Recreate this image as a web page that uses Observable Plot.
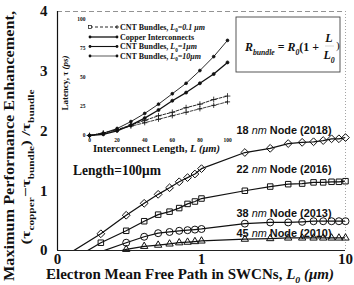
<!DOCTYPE html>
<html><head><meta charset="utf-8">
<script src="https://cdn.jsdelivr.net/npm/d3@7"></script>
<script src="https://cdn.jsdelivr.net/npm/@observablehq/plot@0.6"></script>
<style>
body{margin:0;background:#fff}
#wrap{position:relative;width:354px;height:285px;overflow:hidden;background:#fff}
#wrap svg{position:absolute;left:0;top:0}
</style></head><body><div id="wrap"></div>
<script>
// ---- main chart data ----
const mfp = [0.1,0.2,0.3,0.4,0.5,0.6,0.7,0.8,0.9,1,2,3,4,5,6,7,8,9,10];
const node18 = [-0.17,0.28,0.59,0.79,0.94,1.05,1.15,1.22,1.28,1.37,1.64,1.71,1.79,1.81,1.82,1.84,1.87,1.87,1.89];
const node22 = [-0.30,0.13,0.33,0.49,0.60,0.65,0.71,0.78,0.82,0.87,1.00,1.07,1.11,1.12,1.14,1.14,1.15,1.15,1.16];
const node38 = [-0.30,-0.02,0.13,0.23,0.29,0.31,0.33,0.34,0.35,0.36,0.45,0.47,0.47,0.48,0.49,0.49,0.49,0.49,0.49];
const node45 = [-0.40,-0.10,0.02,0.07,0.09,0.11,0.13,0.14,0.15,0.16,0.19,0.20,0.21,0.21,0.21,0.21,0.21,0.21,0.21];
const nodeSizes = ["18","22","38","45"];
const nodeYears = ["2018","2016","2013","2010"];
const xTicks = [0.1,1,10];
const xTickLabels = ["0","1","10"];
const yTicks = [0,1,2,3,4];

// ---- inset data ----
const insetL = [0,10,20,30,40,50,60,70,80,90,100];
const latCnt01 = [0,2,6,12,19,27,36,45,56,68,82];
const latCopper = [0,1,4,9,15,22,30,37,45,53,63];
const latCnt1 = [0,2,5,9,13,17,20,24,27,31,34];
const latCnt10 = [0,2,5,8,11,14,17,20,23,26,29];
const insetXTicks = [0,20,40,60,80,100];
const insetYTicks = [0,25,50,75,100];

const ink = "#111";
const labelDy = [-7,-12,-8,-4.5];
const symbols = ["diamond2","square2","circle","triangle2"];
const series = [node18,node22,node38,node45];

const marks = [
  Plot.ruleY([4], {stroke:"#777", strokeDasharray:"5,3", strokeWidth:0.8}),
  Plot.ruleX([10], {stroke:"#999", strokeDasharray:"1,2", strokeWidth:0.9}),
  Plot.ruleX([0.1], {stroke:ink, strokeWidth:1.2}),
  Plot.ruleY([0], {stroke:"#222", strokeWidth:1})
];
series.forEach((vals,i) => {
  const rows = mfp.map((x,j) => ({x, y: vals[j]}));
  marks.push(Plot.line(rows, {x:"x", y:"y", stroke:ink, strokeWidth:1.25, clip:true}));
  marks.push(Plot.dot(rows.filter(d => d.y >= 0), {x:"x", y:"y", symbol:symbols[i], r:3.5, stroke:ink, fill:"none", strokeWidth:1}));
  marks.push(Plot.text([rows[rows.length-1]], {x:"x", y:"y", text:() => nodeSizes[i] + "|" + nodeYears[i],
    textAnchor:"end", dx:-14, dy:labelDy[i], fontFamily:"Liberation Sans", fontWeight:"bold", fontSize:11.5, fill:ink}));
});

const main = Plot.plot({
  width:354, height:285,
  marginLeft:57, marginRight:9, marginTop:11, marginBottom:35,
  style:{fontFamily:"Liberation Serif", fontSize:"15px", fontWeight:"bold", background:"transparent", color:ink},
  x:{type:"log", domain:[0.1,10], ticks:xTicks, tickFormat:d => xTickLabels[xTicks.indexOf(d)], tickSize:0, tickPadding:3, label:null},
  y:{domain:[0,4], ticks:yTicks, tickFormat:d => String(d), tickSize:0, tickPadding:10, label:null},
  marks
});
document.getElementById("wrap").appendChild(main);

// inset
const insetSeries = [
  {v:latCnt01, w:0.9, dash:null, sym:"circle", r:1.4, fill:ink},
  {v:latCopper, w:1.3, dash:null, sym:"circle", r:1.5, fill:ink},
  {v:latCnt1, w:0.9, dash:"3,1.5", sym:"plus", r:2, fill:"none"},
  {v:latCnt10, w:0.8, dash:"3,1.5", sym:"plus", r:1.8, fill:"none"}
];
const insetMarks = [];
insetSeries.forEach(s => {
  const rows = insetL.map((x,j) => ({x, y:s.v[j]}));
  insetMarks.push(Plot.line(rows, {x:"x", y:"y", stroke:ink, strokeWidth:s.w, strokeDasharray:s.dash}));
  insetMarks.push(Plot.dot(rows, {x:"x", y:"y", symbol:s.sym, r:s.r, stroke:ink, fill:s.fill, strokeWidth:0.8}));
});
const inset = Plot.plot({
  width:175, height:140, marginLeft:29, marginRight:8, marginTop:9, marginBottom:15,
  style:{fontFamily:"Liberation Serif", fontSize:"5.5px", fontWeight:"bold", background:"transparent", color:ink},
  x:{domain:[0,100], ticks:insetXTicks, tickFormat:d => String(d), tickSize:0, tickPadding:3, label:null},
  y:{domain:[0,100], ticks:insetYTicks, tickFormat:d => String(d), tickSize:0, tickPadding:4, label:null},
  marks: insetMarks
});
inset.style.left = "60px"; inset.style.top = "10px";
document.getElementById("wrap").appendChild(inset);

const svg = d3.select(main);

// rewrite node labels with mixed styles
svg.selectAll("text").filter(function(){ return this.textContent.includes("|"); }).each(function(){
  const [sz, yr] = this.textContent.split("|");
  const t = d3.select(this);
  t.text(null).attr("textLength", 95).attr("lengthAdjust","spacingAndGlyphs");
  t.append("tspan").text(sz + " ");
  t.append("tspan").attr("font-style","italic").attr("font-weight","normal").text("nm");
  t.append("tspan").text(" Node (" + yr + ")");
});

function rich(x, y, parts, o) {
  const t = svg.append("text").attr("x",x).attr("y",y)
    .attr("font-family", o.family || "Liberation Serif").attr("font-weight", o.weight || "bold")
    .attr("font-size", o.size).attr("text-anchor", o.anchor || "start").attr("fill", ink);
  if (o.rotate) t.attr("transform", `rotate(${o.rotate},${x},${y})`);
  if (o.length) t.attr("textLength", o.length).attr("lengthAdjust","spacingAndGlyphs");
  let shift = 0;
  for (const p of parts) {
    const [str, f] = typeof p === "string" ? [p, {}] : p;
    const ts = t.append("tspan").text(str);
    const target = f.sub ? o.size*0.3 : 0;
    if (target !== shift) { ts.attr("dy", target - shift); shift = target; }
    if (f.sub) ts.attr("font-size", o.size*0.65);
    if (f.italic) ts.attr("font-style","italic");
    if (f.normal) ts.attr("font-weight","normal");
  }
  return t;
}

// axis titles
rich(14, 146, ["Maximum Performance Enhancement,"], {size:15, rotate:-90, anchor:"middle", length:270});
rich(30, 167, ["(τ", ["copper",{sub:1}], "−τ", ["bundle",{sub:1}], ") /τ", ["bundle",{sub:1}]], {size:13, rotate:-90, anchor:"middle", length:155});
rich(190, 279, ["Electron Mean Free Path in SWCNs, ", ["L",{italic:1}], ["0",{sub:1, italic:1}], " ", ["(μm)",{italic:1}]], {size:14, anchor:"middle", length:288});
rich(73, 175, ["Length=100μm"], {size:14, length:88});

// formula box
svg.append("rect").attr("x",236).attr("y",17).attr("width",104).attr("height",55)
  .attr("fill","none").attr("stroke","#444").attr("stroke-width",0.9);
rich(245, 51, [["R",{italic:1}], ["bundle",{sub:1, italic:1}], " = ", ["R",{italic:1}], ["0",{sub:1, italic:1}], "(1 + "], {size:13, length:77});
rich(329, 42, [["L",{italic:1}]], {size:12, anchor:"middle"});
rich(329, 59, [["L",{italic:1}], ["0",{sub:1, italic:1}]], {size:12, anchor:"middle"});
svg.append("line").attr("x1",325).attr("x2",334).attr("y1",46).attr("y2",46).attr("stroke","#bbb").attr("stroke-width",0.6);
rich(336, 49, [")"], {size:11, anchor:"start", weight:"normal"});

// inset titles
rich(68, 83, ["Latency, τ ", ["(ps)",{italic:1}]], {size:7.5, rotate:-90, anchor:"middle", length:55});
rich(156.5, 152, ["Interconnect Length, ", ["L",{italic:1}], " ", ["(μm)",{italic:1}]], {size:9.5, anchor:"middle", length:127});

// inset legend
const legRows = [27,37,46.5,56];
const legLabels = [
  ["CNT Bundles, ", ["L",{italic:1}], ["0",{sub:1}], ["=0.1 μm",{italic:1}]],
  ["Copper Interconnects"],
  ["CNT Bundles, ", ["L",{italic:1}], ["0",{sub:1}], ["=1μm",{italic:1}]],
  ["CNT Bundles, ", ["L",{italic:1}], ["0",{sub:1}], ["=10μm",{italic:1}]]
];
const legW = [0.9,1.3,1.1,0.7];
legRows.forEach((y,i) => {
  const ln = svg.append("line").attr("x1",90).attr("x2",117).attr("y1",y).attr("y2",y)
    .attr("stroke",ink).attr("stroke-width",legW[i]);
  if (i === 0) {
    ln.attr("stroke-dasharray","3,2");
    svg.append("rect").attr("x",88.5).attr("y",y-1.5).attr("width",3).attr("height",3).attr("fill","#fff").attr("stroke",ink).attr("stroke-width",0.7);
    svg.append("path").attr("d",`M115,${y}h4M117,${y-2}v4`).attr("stroke",ink).attr("stroke-width",0.8);
  } else {
    svg.append("circle").attr("cx",90).attr("cy",y).attr("r",1.4).attr("fill",ink);
    svg.append("circle").attr("cx",117).attr("cy",y).attr("r",1.4).attr("fill",ink);
  }
  rich(120, y+2.8, legLabels[i], {size:8});
});
</script></body></html>
